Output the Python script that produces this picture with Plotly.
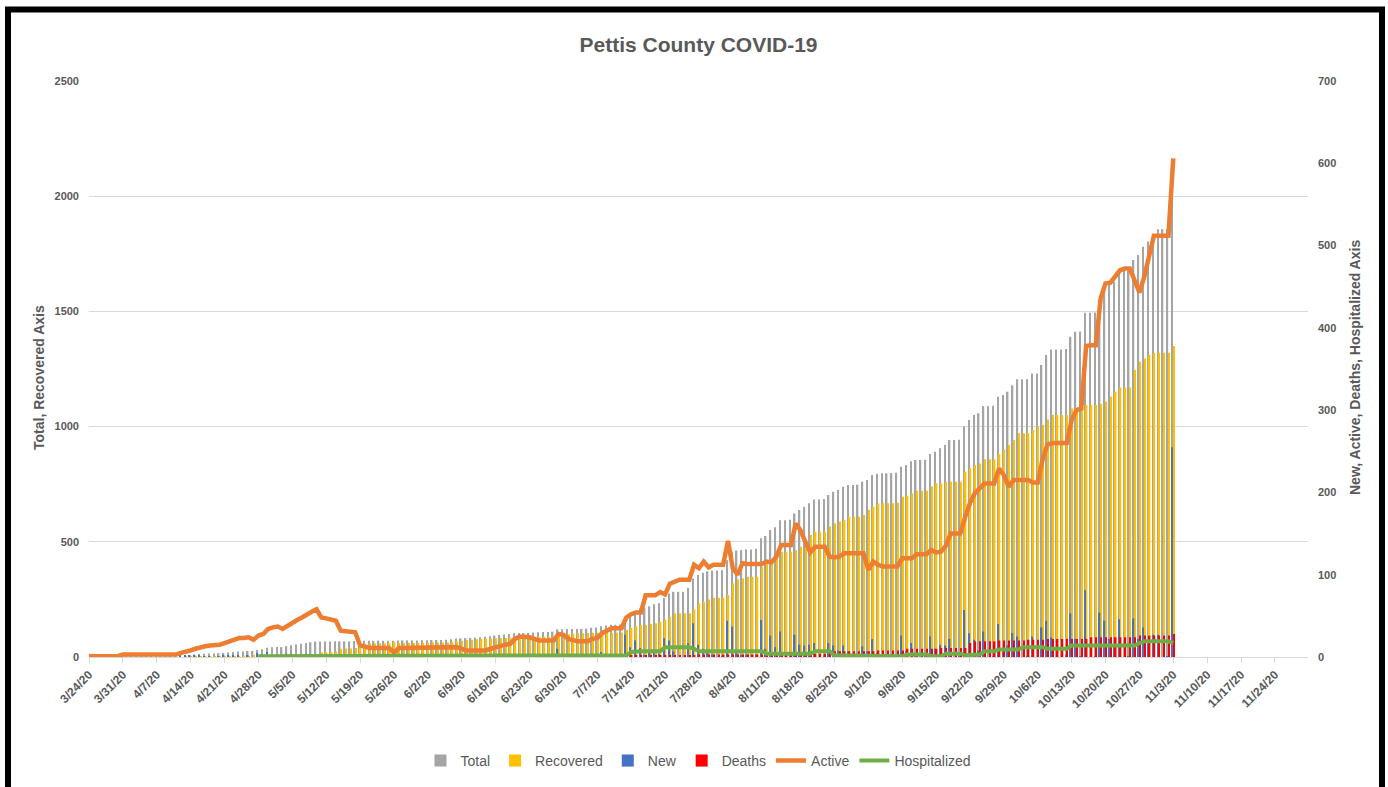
import pandas as pd
import plotly.graph_objects as go

# ---------------- data (daily, starting 3/24/20) ----------------
start_date = "2020-03-24"

total = [
    1, 1, 1, 1, 1, 1, 1,
    3, 3, 3, 3, 3, 3, 3,
    3, 3, 3, 3, 3, 5, 7,
    9, 11, 13, 14, 15, 15, 16,
    18, 20, 22, 24, 24, 26, 26,
    31, 34, 40, 42, 43, 43, 47,
    51, 54, 57, 61, 64, 67, 67,
    67, 67, 68, 68, 68, 68, 69,
    70, 70, 70, 70, 71, 71, 71,
    71, 72, 72, 72, 72, 72, 73,
    73, 74, 74, 74, 75, 77, 80,
    81, 82, 83, 85, 86, 88, 90,
    93, 96, 98, 100, 103, 104, 104,
    105, 106, 107, 108, 108, 110, 120,
    120, 121, 121, 122, 122, 123, 127,
    128, 134, 137, 140, 140, 141, 168,
    180, 200, 211, 213, 220, 229, 233,
    256, 276, 283, 283, 283, 300, 341,
    356, 366, 372, 375, 375, 376, 420,
    457, 462, 464, 467, 467, 470, 515,
    525, 551, 563, 594, 594, 596, 623,
    638, 652, 667, 684, 684, 686, 703,
    717, 725, 739, 746, 746, 748, 761,
    768, 790, 795, 797, 797, 798, 800,
    826, 833, 850, 855, 855, 856, 881,
    891, 906, 920, 942, 942, 943, 1000,
    1029, 1050, 1058, 1089, 1089, 1090, 1130,
    1137, 1151, 1180, 1205, 1205, 1206, 1231,
    1231, 1267, 1311, 1335, 1335, 1335, 1337,
    1390, 1412, 1413, 1494, 1494, 1495, 1549,
    1593, 1615, 1629, 1675, 1675, 1676, 1723,
    1745, 1781, 1803, 1830, 1857, 1857, 1858,
    1990,
]

recovered = [
    0, 0, 0, 0, 0, 0, 0,
    0, 0, 0, 0, 0, 0, 0,
    0, 0, 0, 0, 0, 0, 1,
    1, 1, 1, 1, 1, 1, 1,
    1, 1, 1, 1, 1, 2, 5,
    5, 6, 6, 6, 6, 9, 9,
    9, 9, 9, 9, 9, 9, 19,
    20, 22, 24, 36, 37, 37, 39,
    56, 58, 59, 59, 60, 60, 60,
    66, 61, 61, 61, 61, 61, 62,
    62, 63, 63, 63, 63, 65, 68,
    71, 74, 75, 77, 78, 80, 80,
    81, 82, 83, 84, 81, 79, 79,
    81, 84, 87, 88, 88, 90, 92,
    93, 99, 101, 103, 103, 104, 105,
    105, 105, 105, 105, 105, 106, 118,
    126, 134, 139, 139, 143, 146, 153,
    161, 175, 190, 190, 190, 190, 207,
    233, 240, 250, 257, 257, 257, 269,
    320, 337, 341, 348, 348, 348, 390,
    407, 421, 453, 457, 457, 457, 464,
    479, 493, 530, 544, 544, 544, 566,
    580, 588, 595, 609, 609, 609, 616,
    638, 652, 667, 667, 667, 667, 670,
    696, 700, 710, 722, 722, 722, 740,
    754, 754, 761, 761, 761, 761, 804,
    819, 833, 840, 858, 858, 858, 881,
    901, 920, 942, 971, 971, 971, 985,
    1000, 1007, 1031, 1050, 1050, 1050, 1050,
    1079, 1079, 1090, 1094, 1094, 1094, 1098,
    1108, 1130, 1151, 1170, 1170, 1170, 1246,
    1282, 1296, 1311, 1321, 1321, 1321, 1321,
    1350,
]

new = [
    1, 0, 0, 0, 0, 0, 0,
    2, 0, 0, 0, 0, 0, 0,
    0, 0, 0, 0, 0, 2, 2,
    2, 2, 2, 1, 1, 0, 1,
    2, 2, 2, 2, 0, 2, 0,
    5, 3, 6, 2, 1, 0, 4,
    4, 3, 3, 4, 3, 3, 0,
    0, 0, 1, 0, 0, 0, 1,
    1, 0, 0, 0, 1, 0, 0,
    0, 1, 0, 0, 0, 0, 1,
    0, 1, 0, 0, 1, 2, 3,
    1, 1, 1, 2, 1, 2, 2,
    3, 3, 2, 2, 3, 1, 0,
    1, 1, 1, 1, 0, 2, 10,
    0, 1, 0, 1, 0, 1, 4,
    1, 6, 3, 3, 0, 1, 27,
    12, 20, 11, 2, 7, 9, 4,
    23, 20, 7, 0, 0, 17, 41,
    15, 10, 6, 3, 0, 1, 44,
    37, 5, 2, 3, 0, 3, 45,
    10, 26, 12, 31, 0, 2, 27,
    15, 14, 15, 17, 0, 2, 17,
    14, 8, 14, 7, 0, 2, 13,
    7, 22, 5, 2, 0, 1, 2,
    26, 7, 17, 5, 0, 1, 25,
    10, 15, 14, 22, 0, 1, 57,
    29, 21, 8, 31, 0, 1, 40,
    7, 14, 29, 25, 0, 1, 25,
    0, 36, 44, 24, 0, 0, 2,
    53, 22, 1, 81, 0, 1, 54,
    44, 22, 14, 46, 0, 1, 47,
    22, 36, 22, 27, 27, 0, 1,
    255,
]

deaths = [0] * 112 + [
    2, 2, 2, 2, 2, 2, 2,
    2, 2, 2, 2, 2, 2, 2,
    3, 3, 3, 3, 3, 3, 3,
    3, 3, 3, 3, 3, 3, 3,
    3, 3, 3, 3, 3, 3, 4,
    4, 4, 4, 4, 4, 4, 7,
    7, 7, 7, 7, 7, 7, 7,
    7, 7, 8, 8, 8, 8, 8,
    8, 10, 10, 10, 10, 10, 10,
    10, 11, 11, 11, 11, 11, 11,
    17, 19, 19, 19, 19, 19, 20,
    20, 20, 20, 20, 20, 21, 21,
    21, 21, 22, 22, 22, 22, 22,
    22, 22, 22, 22, 24, 24, 24,
    24, 24, 24, 24, 24, 24, 24,
    26, 26, 26, 26, 26, 26, 26,
    28,
]

active = [
    1, 1, 1, 1, 1, 1, 1,
    3, 3, 3, 3, 3, 3, 3,
    3, 3, 3, 3, 3, 5, 6,
    8, 10, 12, 13, 14, 14, 15,
    17, 19, 21, 23, 23, 24, 21,
    26, 28, 34, 36, 37, 34, 38,
    42, 45, 48, 52, 55, 58, 48,
    47, 45, 44, 32, 31, 31, 30,
    14, 12, 11, 11, 11, 11, 11,
    5, 11, 11, 11, 11, 11, 11,
    11, 11, 11, 11, 12, 12, 12,
    10, 8, 8, 8, 8, 8, 10,
    12, 14, 15, 16, 22, 25, 25,
    24, 22, 20, 20, 20, 20, 28,
    27, 22, 20, 19, 19, 19, 22,
    23, 29, 32, 35, 35, 35, 48,
    52, 54, 54, 75, 75, 75, 79,
    76, 89, 92, 94, 94, 94, 112,
    108, 116, 109, 112, 112, 112, 141,
    108, 100, 114, 113, 113, 113, 113,
    116, 115, 122, 136, 136, 136, 162,
    154, 140, 127, 134, 134, 134, 122,
    121, 122, 126, 126, 126, 126, 126,
    106, 116, 112, 110, 110, 110, 110,
    120, 120, 120, 125, 125, 125, 130,
    127, 128, 135, 150, 150, 150, 170,
    187, 199, 205, 211, 211, 211, 229,
    221, 207, 215, 215, 215, 215, 212,
    212, 240, 258, 260, 260, 260, 260,
    288, 300, 302, 378, 379, 379, 436,
    454, 455, 462, 470, 472, 472, 458,
    443, 462, 490, 512, 512, 512, 512,
    606,
]

hospitalized = [None] * 35 + [
    1, 1, 1, 1, 1, 1, 1,
    1, 1, 1, 1, 1, 1, 1,
    1, 1, 2, 2, 2, 1, 1,
    1, 1, 1, 1, 1, 1, 1,
    1, 1, 1, 1, 1, 1, 1,
    1, 1, 1, 1, 1, 1, 1,
    1, 1, 1, 1, 1, 1, 1,
    1, 1, 1, 1, 1, 1, 2,
    2, 2, 2, 2, 2, 2, 2,
    2, 2, 2, 2, 2, 2, 2,
    2, 2, 2, 2, 2, 2, 2,
    6, 7, 7, 7, 7, 7, 7,
    12, 12, 12, 12, 12, 12, 10,
    7, 7, 7, 7, 7, 7, 7,
    7, 7, 7, 7, 7, 7, 7,
    4, 4, 4, 4, 4, 4, 4,
    4, 4, 4, 7, 7, 7, 7,
    2, 2, 2, 2, 2, 2, 2,
    2, 2, 1, 1, 1, 1, 1,
    1, 3, 3, 3, 3, 3, 1,
    1, 1, 4, 4, 4, 4, 2,
    2, 2, 3, 7, 7, 7, 9,
    9, 9, 9, 9, 12, 12, 12,
    12, 12, 10, 10, 10, 10, 10,
    14, 14, 14, 14, 14, 14, 14,
    14, 14, 14, 14, 14, 14, 14,
    17, 19, 19, 19, 19, 19, 19,
    17,
]

dates = pd.date_range(start_date, periods=len(total), freq="D")

# ---------------- styling ----------------
FONT = "Liberation Sans, Arial, sans-serif"
TXT = "#595959"
DAY_MS = 86400000
bar_w = 0.30 * DAY_MS

fig = go.Figure()
fig.add_trace(go.Bar(x=dates, y=total, name="Total", marker_color="#A5A5A5",
                     marker_line_width=0, width=bar_w, offset=-0.36 * DAY_MS))
fig.add_trace(go.Bar(x=dates, y=recovered, name="Recovered", marker_color="#FFC000",
                     marker_line_width=0, width=bar_w, offset=-0.04 * DAY_MS))
fig.add_trace(go.Bar(x=dates, y=new, name="New", marker_color="#4472C4",
                     marker_line_width=0, width=bar_w, offset=-0.36 * DAY_MS, yaxis="y2"))
fig.add_trace(go.Bar(x=dates, y=deaths, name="Deaths", marker_color="#FF0000",
                     marker_line_width=0, width=bar_w, offset=-0.04 * DAY_MS, yaxis="y2"))
fig.add_trace(go.Scatter(x=dates, y=active, name="Active", mode="lines",
                         line=dict(color="#ED7D31", width=4.5), yaxis="y2"))
fig.add_trace(go.Scatter(x=dates, y=hospitalized, name="Hospitalized", mode="lines",
                         line=dict(color="#70AD47", width=4), yaxis="y2"))

L, R, T, B = 89, 80, 81, 130
W, H = 1388, 787
pw, ph = W - L - R, H - T - B


def px_x(px):
    return (px - L) / pw


def px_y(py):
    return (H - B - py) / ph


fig.update_layout(
    width=W, height=H,
    margin=dict(l=L, r=R, t=T, b=B, autoexpand=False),
    paper_bgcolor="white", plot_bgcolor="white",
    font=dict(family=FONT, color=TXT),
    barmode="overlay",
    title=dict(text="<b>Pettis County COVID-19</b>", x=0.5, xref="paper", xanchor="center",
               y=1 - 45 / H, yref="container", yanchor="middle",
               font=dict(size=21, color=TXT, family=FONT)),
    xaxis=dict(type="date", range=["2020-03-24", "2020-11-30 20:00"],
               tick0="2020-03-24", dtick=7 * DAY_MS, tickformat="%-m/%-d/%y",
               tickangle=-45, ticks="outside", ticklen=5, tickcolor="#D9D9D9",
               showline=True, linecolor="#D9D9D9", linewidth=1, showgrid=False,
               zeroline=False,
               tickfont=dict(size=12, color=TXT, family=FONT, weight="bold")),
    yaxis=dict(range=[0, 2500], dtick=500, showgrid=True, gridcolor="#D9D9D9",
               zeroline=False, showline=False, ticks="", ticklabelstandoff=9,
               tickfont=dict(size=11, color=TXT, family=FONT, weight="bold")),
    yaxis2=dict(range=[0, 700], dtick=100, overlaying="y", side="right",
                showgrid=False, zeroline=False, showline=False, ticks="",
                ticklabelstandoff=9,
                tickfont=dict(size=11, color=TXT, family=FONT, weight="bold")),
    legend=dict(orientation="h", x=0.5, xanchor="center", y=px_y(761), yanchor="middle",
                font=dict(size=14, color=TXT, family=FONT), bgcolor="rgba(0,0,0,0)",
                itemwidth=30, traceorder="normal"),
    showlegend=True,
)

fig.add_annotation(text="<b>Total, Recovered Axis</b>", xref="paper", yref="paper",
                   x=px_x(39), y=px_y(378), xanchor="center", yanchor="middle",
                   textangle=-90, showarrow=False,
                   font=dict(size=14, color=TXT, family=FONT))
fig.add_annotation(text="<b>New, Active, Deaths, Hospitalized Axis</b>", xref="paper", yref="paper",
                   x=px_x(1355), y=px_y(368), xanchor="center", yanchor="middle",
                   textangle=-90, showarrow=False,
                   font=dict(size=14, color=TXT, family=FONT))

# black frame around the chart (open at the bottom)
xl, xr, yt, yb = px_x(8), px_x(1382), px_y(9.5), px_y(820)
fig.add_shape(type="path", xref="paper", yref="paper",
              path=f"M {xl} {yb} L {xl} {yt} L {xr} {yt} L {xr} {yb}",
              line=dict(color="black", width=6))

fig.write_html("out.html", config={"displayModeBar": False},
               post_script="document.body.style.margin='0';document.body.style.overflow='hidden';")
